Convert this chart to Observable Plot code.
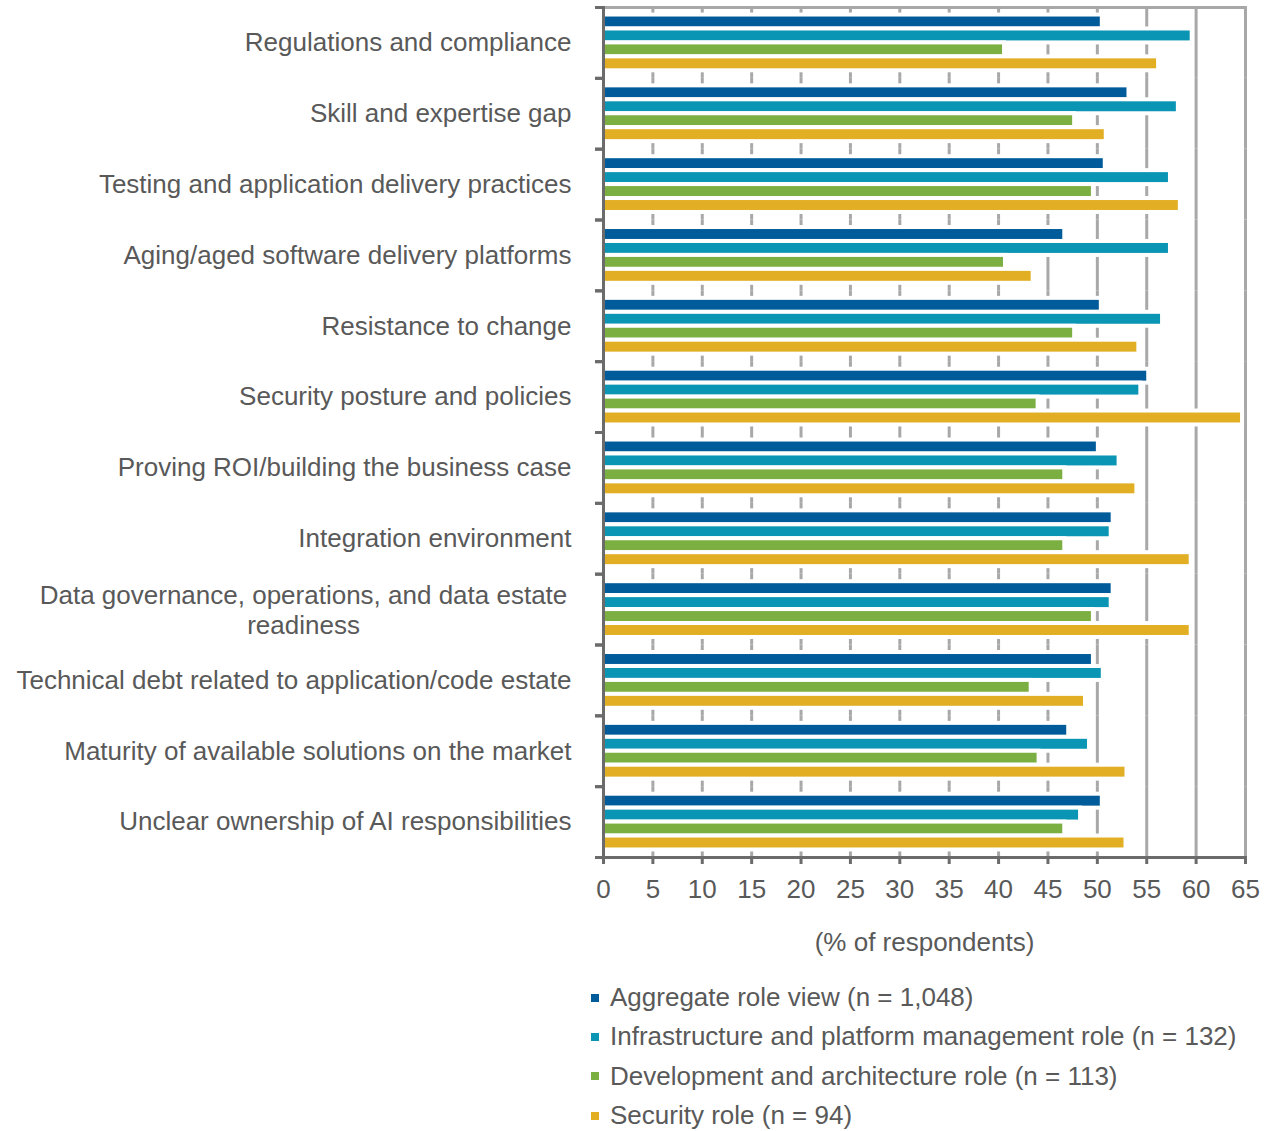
<!DOCTYPE html>
<html>
<head>
<meta charset="utf-8">
<script src="https://cdn.jsdelivr.net/npm/d3@7"></script>
<script src="https://cdn.jsdelivr.net/npm/@observablehq/plot@0.6"></script>
<style>
  body { margin: 0; background: #fff; font-family: "Liberation Sans", Arial, sans-serif; }
  #legend { margin-left: 591px; }
  .item { display: flex; align-items: center; height: 39.3px; font-size: 26px; color: #595959; white-space: nowrap; }
  .sw { width: 8px; height: 8px; margin-right: 11px; flex: none; }
</style>
</head>
<body>
<div id="chart"></div>
<div id="legend"></div>
<script>
const categories = [
  "Regulations and compliance",
  "Skill and expertise gap",
  "Testing and application delivery practices",
  "Aging/aged software delivery platforms",
  "Resistance to change",
  "Security posture and policies",
  "Proving ROI/building the business case",
  "Integration environment",
  "Data governance, operations, and data estate readiness",
  "Technical debt related to application/code estate",
  "Maturity of available solutions on the market",
  "Unclear ownership of AI responsibilities"
];
const categoryLabels = [
  "Regulations and compliance",
  "Skill and expertise gap",
  "Testing and application delivery practices",
  "Aging/aged software delivery platforms",
  "Resistance to change",
  "Security posture and policies",
  "Proving ROI/building the business case",
  "Integration environment",
  "Data governance, operations, and data estate\nreadiness",
  "Technical debt related to application/code estate",
  "Maturity of available solutions on the market",
  "Unclear ownership of AI responsibilities"
];
const wrappedCategories = ["Data governance, operations, and data estate readiness"];
const seriesNames = [
  "Aggregate role view (n = 1,048)",
  "Infrastructure and platform management role (n = 132)",
  "Development and architecture role (n = 113)",
  "Security role (n = 94)"
];
const seriesColors = ["#005B9A", "#0A95B4", "#7BAF42", "#E2AF24"];

const aggregate = [50.3, 53.0, 50.6, 46.5, 50.2, 55.0, 49.9, 51.4, 51.4, 49.4, 46.9, 50.3];
const infrastructure = [59.4, 58.0, 57.2, 57.2, 56.4, 54.2, 52.0, 51.2, 51.2, 50.4, 49.0, 48.1];
const development = [40.4, 47.5, 49.4, 40.5, 47.5, 43.8, 46.5, 46.5, 49.4, 43.1, 43.9, 46.5];
const security = [56.0, 50.7, 58.2, 43.3, 54.0, 64.5, 53.8, 59.3, 59.3, 48.6, 52.8, 52.7];

const xTicks = [0, 5, 10, 15, 20, 25, 30, 35, 40, 45, 50, 55, 60, 65];
const xLabel = "(% of respondents)";

const seriesValues = [aggregate, infrastructure, development, security];
const rows = categories.flatMap((c, i) =>
  seriesNames.map((s, j) => ({category: c, series: s, value: seriesValues[j][i]}))
);

const W = 1272, H = 978, ML = 603, MR = 27, MT = 7, MB = 121;
const plotW = W - ML - MR;
const axisColor = "#6b6b6b";
const gridColor = "#a8a8a8";
const textColor = "#595959";
const labelFormat = d => categoryLabels[categories.indexOf(d)];

const chart = Plot.plot({
  width: W, height: H,
  marginLeft: ML, marginRight: MR, marginTop: MT, marginBottom: MB,
  style: {fontFamily: '"Liberation Sans", Arial, sans-serif', fontSize: "26px", color: textColor, background: "white"},
  x: {domain: [0, 65]},
  y: {domain: seriesNames, paddingInner: 0, paddingOuter: 0.54, round: false, axis: null},
  fy: {domain: categories, padding: 0, round: false, label: null},
  color: {domain: seriesNames, range: seriesColors},
  marks: [
    Plot.ruleX(xTicks.slice(1), {stroke: gridColor, strokeWidth: 3}),
    Plot.frame({anchor: "top", facet: "super", stroke: gridColor, strokeWidth: 3}),
    Plot.barX(rows, {fy: "category", y: "series", x: "value", fill: "series", stroke: "white", strokeWidth: 4, insetLeft: -2, insetRight: -2}),
    Plot.ruleX([0], {stroke: axisColor, strokeWidth: 3}),
    Plot.frame({anchor: "bottom", facet: "super", stroke: axisColor, strokeWidth: 3}),
    Plot.frame({anchor: "top", insetLeft: -7, insetRight: plotW, stroke: axisColor, strokeWidth: 3}),
    Plot.frame({anchor: "bottom", insetLeft: -7, insetRight: plotW, stroke: axisColor, strokeWidth: 3}),
    Plot.axisX({
      ticks: xTicks, tickSize: 7, tickPadding: 15, fontSize: 26,
      stroke: axisColor, strokeWidth: 3, fill: textColor,
      tickFormat: d => String(d),
      label: xLabel, labelAnchor: "center", labelOffset: 93, labelArrow: "none"
    }),
    Plot.axisFy({
      anchor: "left", tickSize: 0, tickPadding: 32, fontSize: 26, fill: textColor,
      label: null,
      ticks: categories.filter(c => !wrappedCategories.includes(c)),
      tickFormat: labelFormat
    }),
    Plot.axisFy({
      anchor: "left", tickSize: 0, tickPadding: 300, fontSize: 26, fill: textColor,
      textAnchor: "middle", lineHeight: 1.15, label: null,
      ticks: wrappedCategories,
      tickFormat: labelFormat
    })
  ]
});
document.getElementById("chart").appendChild(chart);

const legend = document.getElementById("legend");
seriesNames.forEach((s, i) => {
  const item = document.createElement("div");
  item.className = "item";
  const sw = document.createElement("span");
  sw.className = "sw";
  sw.style.background = seriesColors[i];
  const t = document.createElement("span");
  t.textContent = s;
  item.appendChild(sw);
  item.appendChild(t);
  legend.appendChild(item);
});
</script>
</body>
</html>
